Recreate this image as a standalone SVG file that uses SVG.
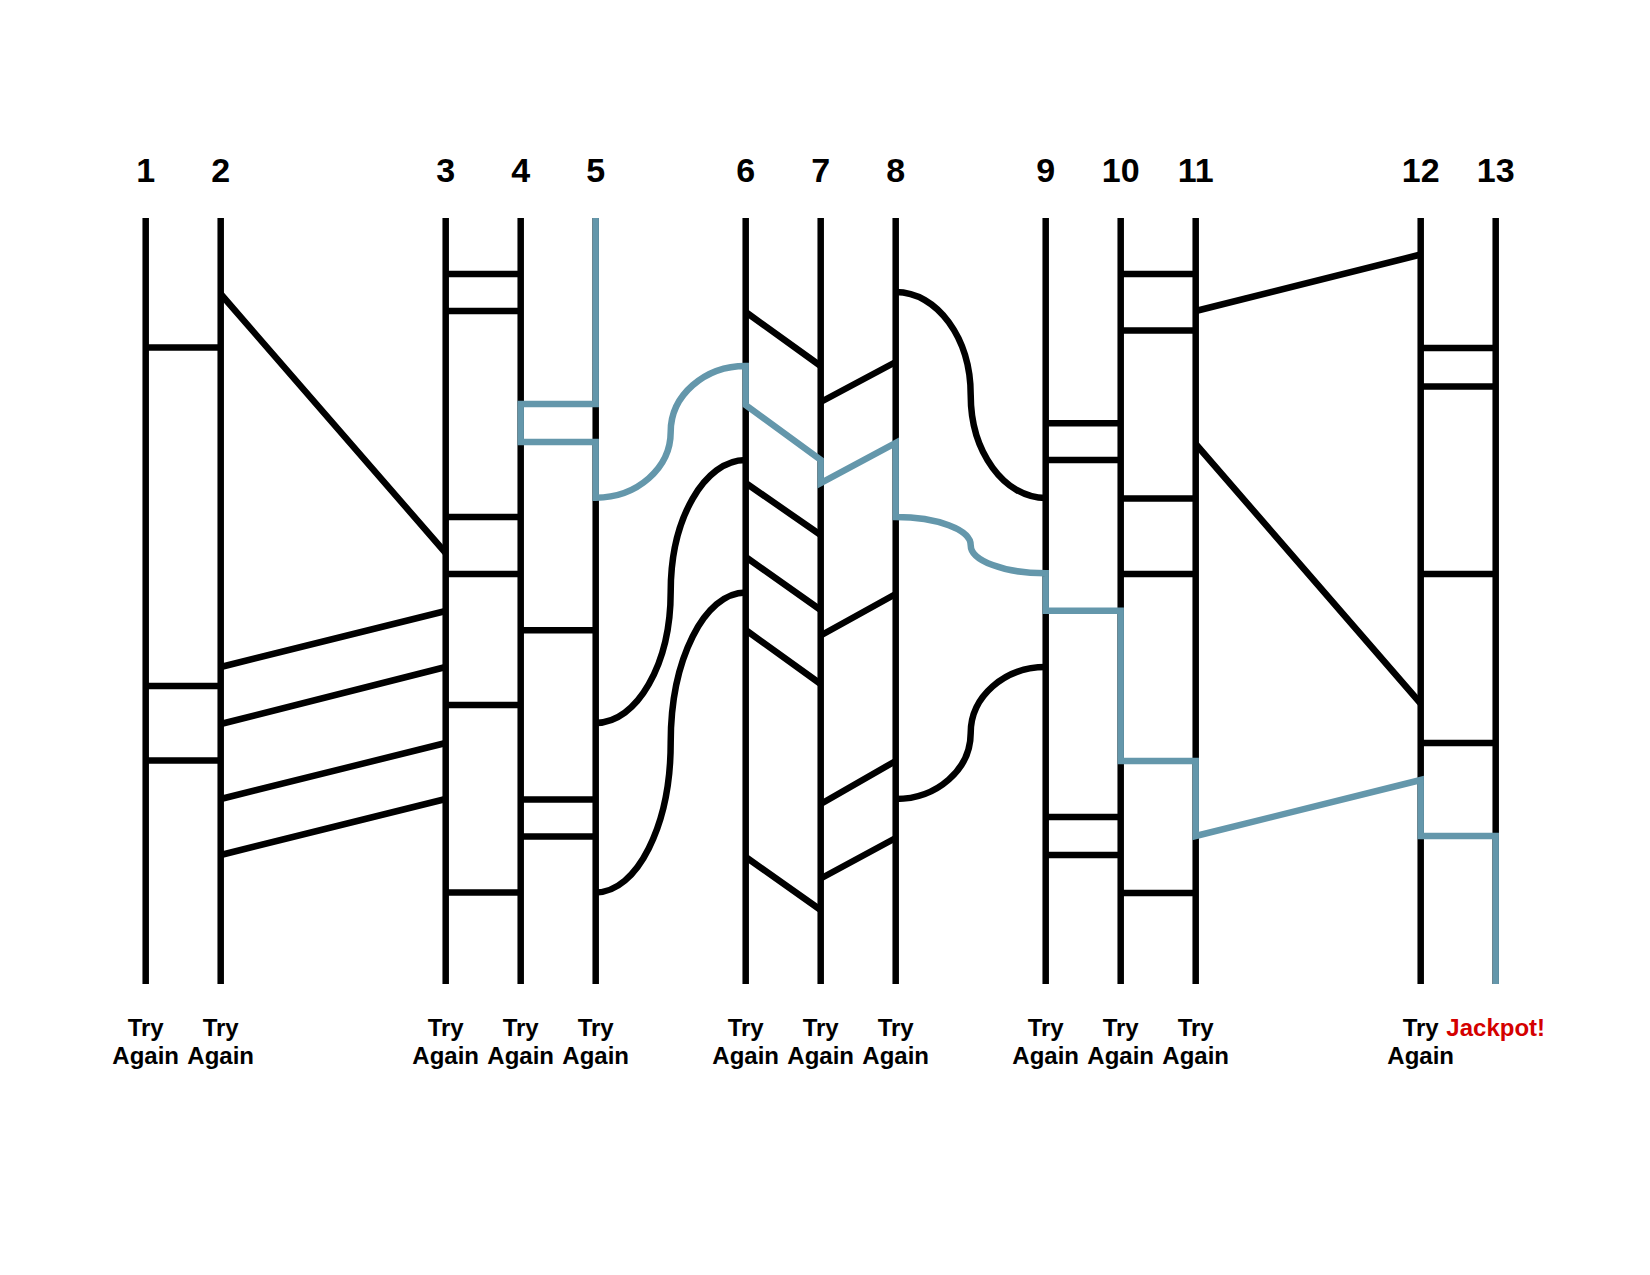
<svg xmlns="http://www.w3.org/2000/svg" width="1650" height="1275" viewBox="0 0 1650 1275">
<style>
.col{stroke:#000;stroke-width:6.5;fill:none;stroke-linecap:butt}
.rung{stroke:#000;stroke-width:6.5;fill:none;stroke-linecap:butt}
.path{stroke:#6497ab;stroke-width:6.5;fill:none;stroke-linejoin:miter;stroke-linecap:butt}
.num{font-family:"Liberation Sans",Arial,sans-serif;font-weight:bold;font-size:34px;text-anchor:middle;fill:#000}
.lbl{font-family:"Liberation Sans",Arial,sans-serif;font-weight:bold;font-size:24px;text-anchor:middle;fill:#000}
.win{fill:#d40000}
</style>
<rect width="1650" height="1275" fill="#fff"/>
<g id="col1"><text class="num" x="145.7" y="182">1</text><line class="col" x1="145.7" y1="218" x2="145.7" y2="984"/><text class="lbl" x="145.7" y="1036">Try</text><text class="lbl" x="145.7" y="1064">Again</text></g>
<g id="col2"><text class="num" x="220.7" y="182">2</text><line class="col" x1="220.7" y1="218" x2="220.7" y2="984"/><text class="lbl" x="220.7" y="1036">Try</text><text class="lbl" x="220.7" y="1064">Again</text></g>
<g id="col3"><text class="num" x="445.7" y="182">3</text><line class="col" x1="445.7" y1="218" x2="445.7" y2="984"/><text class="lbl" x="445.7" y="1036">Try</text><text class="lbl" x="445.7" y="1064">Again</text></g>
<g id="col4"><text class="num" x="520.7" y="182">4</text><line class="col" x1="520.7" y1="218" x2="520.7" y2="984"/><text class="lbl" x="520.7" y="1036">Try</text><text class="lbl" x="520.7" y="1064">Again</text></g>
<g id="col5"><text class="num" x="595.7" y="182">5</text><line class="col" x1="595.7" y1="218" x2="595.7" y2="984"/><text class="lbl" x="595.7" y="1036">Try</text><text class="lbl" x="595.7" y="1064">Again</text></g>
<g id="col6"><text class="num" x="745.7" y="182">6</text><line class="col" x1="745.7" y1="218" x2="745.7" y2="984"/><text class="lbl" x="745.7" y="1036">Try</text><text class="lbl" x="745.7" y="1064">Again</text></g>
<g id="col7"><text class="num" x="820.7" y="182">7</text><line class="col" x1="820.7" y1="218" x2="820.7" y2="984"/><text class="lbl" x="820.7" y="1036">Try</text><text class="lbl" x="820.7" y="1064">Again</text></g>
<g id="col8"><text class="num" x="895.7" y="182">8</text><line class="col" x1="895.7" y1="218" x2="895.7" y2="984"/><text class="lbl" x="895.7" y="1036">Try</text><text class="lbl" x="895.7" y="1064">Again</text></g>
<g id="col9"><text class="num" x="1045.7" y="182">9</text><line class="col" x1="1045.7" y1="218" x2="1045.7" y2="984"/><text class="lbl" x="1045.7" y="1036">Try</text><text class="lbl" x="1045.7" y="1064">Again</text></g>
<g id="col10"><text class="num" x="1120.7" y="182">10</text><line class="col" x1="1120.7" y1="218" x2="1120.7" y2="984"/><text class="lbl" x="1120.7" y="1036">Try</text><text class="lbl" x="1120.7" y="1064">Again</text></g>
<g id="col11"><text class="num" x="1195.7" y="182">11</text><line class="col" x1="1195.7" y1="218" x2="1195.7" y2="984"/><text class="lbl" x="1195.7" y="1036">Try</text><text class="lbl" x="1195.7" y="1064">Again</text></g>
<g id="col12"><text class="num" x="1420.7" y="182">12</text><line class="col" x1="1420.7" y1="218" x2="1420.7" y2="984"/><text class="lbl" x="1420.7" y="1036">Try</text><text class="lbl" x="1420.7" y="1064">Again</text></g>
<g id="col13"><text class="num" x="1495.7" y="182">13</text><line class="col" x1="1495.7" y1="218" x2="1495.7" y2="984"/><text class="lbl win" x="1495.7" y="1036">Jackpot!</text></g>
<g id="connectors">
<path class="rung" d="M145.7,347.5H220.7M145.7,686H220.7M145.7,760.5H220.7"/>
<path class="rung" d="M220.7,294L445.7,553M220.7,667L445.7,611M220.7,724L445.7,667M220.7,799L445.7,743M220.7,855L445.7,799"/>
<path class="rung" d="M445.7,274H520.7M445.7,311H520.7M445.7,517H520.7M445.7,574H520.7M445.7,705H520.7M445.7,892.4H520.7"/>
<path class="rung" d="M520.7,630.3H595.7M520.7,799.5H595.7M520.7,836.6H595.7"/>
<path class="rung" d="M595.7,723C637.1,723 670.7,664.1 670.7,591.5C670.7,518.9 704.3,460 745.7,460"/>
<path class="rung" d="M595.7,892.4C637.1,892.4 670.7,825.25 670.7,742.45C670.7,659.65 704.3,592.5 745.7,592.5"/>
<path class="rung" d="M745.7,312L820.7,366M745.7,483L820.7,535M745.7,557L820.7,610M745.7,630L820.7,684M745.7,857L820.7,910"/>
<path class="rung" d="M820.7,402L895.7,362M820.7,635.5L895.7,594M820.7,804L895.7,761M820.7,878.5L895.7,838"/>
<path class="rung" d="M895.7,292C937.1,292 970.7,338.1 970.7,395C970.7,451.9 1004.3,498 1045.7,498"/>
<path class="rung" d="M895.7,799C937.1,799 970.7,769.4 970.7,733C970.7,696.6 1004.3,667 1045.7,667"/>
<path class="rung" d="M1045.7,423.3H1120.7M1045.7,460H1120.7M1045.7,817H1120.7M1045.7,855H1120.7"/>
<path class="rung" d="M1120.7,274H1195.7M1120.7,330.5H1195.7M1120.7,498.5H1195.7M1120.7,574H1195.7M1120.7,893H1195.7"/>
<path class="rung" d="M1195.7,311L1420.7,254.5M1195.7,444L1420.7,703.5"/>
<path class="rung" d="M1420.7,348H1495.7M1420.7,386.5H1495.7M1420.7,574H1495.7M1420.7,743H1495.7"/>
<path id="winning-path" class="path" d="M595.7,218V404H520.7V442H595.7V497.7C637.1,497.7 670.7,468.2 670.7,431.85C670.7,395.5 704.3,366 745.7,366V405L820.7,460V483L895.7,443V517C937.1,517 970.7,529.6 970.7,545.15C970.7,560.7 1004.3,573.3 1045.7,573.3V610.7H1120.7V761H1195.7V836L1420.7,780V836H1495.7V984"/>
</g>
</svg>
